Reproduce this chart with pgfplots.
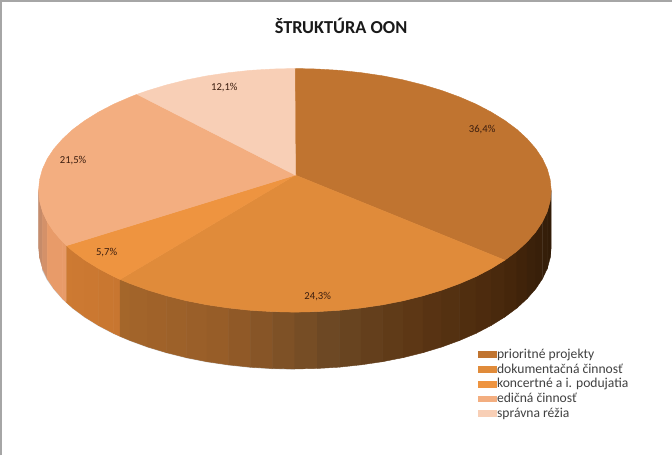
\documentclass[border=0pt]{standalone}
\usepackage{fontspec}
\setmainfont{Carlito}
\usepackage{pgfplots}
\pgfplotsset{compat=1.18}
\definecolor{wA}{RGB}{192,116,48}
\definecolor{wB}{RGB}{224,139,58}
\definecolor{wC}{RGB}{238,148,64}
\definecolor{wD}{RGB}{243,174,128}
\definecolor{wE}{RGB}{248,207,182}
\definecolor{lA}{RGB}{169,104,58}
\definecolor{lB}{RGB}{224,123,40}
\definecolor{lC}{RGB}{242,140,40}
\definecolor{lD}{RGB}{245,168,115}
\definecolor{lE}{RGB}{250,208,192}
\definecolor{lbl}{RGB}{60,30,15}
\begin{document}
\begin{tikzpicture}
\begin{axis}[
  width=672pt,height=460pt,scale only axis,
  xmin=0,xmax=672,ymin=0,ymax=460,y dir=reverse,
  hide axis,clip=true,
  point meta min=48,point meta max=553,
  colormap={wall}{rgb255(48pt)=(190,135,105);rgb255(60pt)=(232,155,105);rgb255(75pt)=(232,155,105);rgb255(76pt)=(205,122,50);rgb255(127pt)=(200,118,48);rgb255(129pt)=(165,102,42);rgb255(230pt)=(150,92,40);rgb255(336pt)=(108,72,36);rgb255(420pt)=(92,54,20);rgb255(507pt)=(72,40,12);rgb255(553pt)=(50,28,8)},
  legend style={at={(axis cs:481,354)},anchor=north west,draw=none,fill=none,
    font=\fontsize{13.4}{15}\selectfont,text=black!75,row sep=1.75pt,inner sep=0pt,
    nodes={inner sep=1pt,anchor=west}},
  legend cell align=left,
  legend image code/.code={\fill[#1] (0pt,-4pt) rectangle (8pt,4pt);},
]
% frame
\addplot[forget plot,draw=black!35,line width=2pt] coordinates {(11,460)(11,12.5)(672,12.5)};
% shadow
\addplot[forget plot,draw=black!45,line width=1.2pt,opacity=0.5] coordinates {(51.8,276.8)(56.6,286.6)(63.2,296)(71.7,305.7)(81.8,315)(93.7,323.8)(107.1,332.1)(122,339.9)(138.2,346.9)(155.7,353.3)(174.2,358.9)(193.8,363.8)(214.1,367.8)(235.2,370.9)(256.7,373.2)(278.5,374.5)(300.5,375)};
% wall
\addplot[forget plot,surf,shader=flat mean,mesh/rows=2,point meta=x] table[row sep=\\]{
x y\\
48.0 199.0\\ 49.0 209.5\\ 51.8 219.8\\ 56.6 230.1\\ 63.2 240.0\\ 71.7 249.7\\ 75.5 253.5\\ 81.8 259.0\\ 93.7 267.8\\ 107.1 276.1\\ 122.0 283.9\\ 128.3 286.8\\ 138.2 290.9\\ 155.7 297.3\\ 174.2 302.9\\ 193.8 307.8\\ 214.1 311.8\\ 235.2 314.9\\ 256.7 317.2\\ 278.5 318.5\\ 300.5 319.0\\ 322.5 318.5\\ 344.3 317.2\\ 365.8 314.9\\ 386.9 311.8\\ 407.2 307.8\\ 426.8 302.9\\ 445.3 297.3\\ 462.8 290.9\\ 479.0 283.9\\ 493.9 276.1\\ 507.3 267.8\\ 519.2 259.0\\ 529.3 249.7\\ 537.8 240.0\\ 544.4 230.1\\ 549.2 219.8\\ 552.0 209.5\\ 553.0 199.0\\
48.0 255.0\\ 49.0 265.5\\ 51.8 275.8\\ 56.6 286.1\\ 63.2 296.0\\ 71.7 305.7\\ 75.5 309.5\\ 81.8 315.0\\ 93.7 323.8\\ 107.1 332.1\\ 122.0 339.9\\ 128.3 342.8\\ 138.2 346.9\\ 155.7 353.3\\ 174.2 358.9\\ 193.8 363.8\\ 214.1 367.8\\ 235.2 370.9\\ 256.7 373.2\\ 278.5 374.5\\ 300.5 375.0\\ 322.5 374.5\\ 344.3 373.2\\ 365.8 370.9\\ 386.9 367.8\\ 407.2 363.8\\ 426.8 358.9\\ 445.3 353.3\\ 462.8 346.9\\ 479.0 339.9\\ 493.9 332.1\\ 507.3 323.8\\ 519.2 315.0\\ 529.3 305.7\\ 537.8 296.0\\ 544.4 286.1\\ 549.2 275.8\\ 552.0 265.5\\ 553.0 255.0\\
};
% top faces
\addplot[fill=wA,draw=wA,area legend] coordinates {(301,184)(300.5,79)(322.5,79.5)(344.3,80.8)(365.8,83.1)(386.9,86.2)(407.2,90.2)(426.8,95.1)(445.3,100.7)(462.8,107.1)(479,114.1)(493.9,121.9)(507.3,130.2)(519.2,139)(529.3,148.3)(537.8,158)(544.4,167.9)(549.2,178.2)(552,188.5)(553,199)(552,209.5)(549.2,219.8)(544.4,230.1)(537.8,240)(529.3,249.7)(519.2,259)(507.3,267.8)} --cycle;
\addlegendentry{prioritné projekty}
\addplot[fill=wB,draw=wB,area legend] coordinates {(301,184)(507.3,267.8)(493.9,276.1)(479,283.9)(462.8,290.9)(445.3,297.3)(426.8,302.9)(407.2,307.8)(386.9,311.8)(365.8,314.9)(344.3,317.2)(322.5,318.5)(300.5,319)(278.5,318.5)(256.7,317.2)(235.2,314.9)(214.1,311.8)(193.8,307.8)(174.2,302.9)(155.7,297.3)(138.2,290.9)(128.3,286.8)} --cycle;
\addlegendentry{dokumentačná činnosť}
\addplot[fill=wC,draw=wC,area legend] coordinates {(301,184)(128.3,286.8)(122,283.9)(107.1,276.1)(93.7,267.8)(81.8,259)(75.5,253.5)} --cycle;
\addlegendentry{koncertné a i. podujatia}
\addplot[fill=wD,draw=wD,area legend] coordinates {(301,184)(75.5,253.5)(71.7,249.7)(63.2,240)(56.6,230.1)(51.8,219.8)(49,209.5)(48,199)(49,188.5)(51.8,178.2)(56.6,167.9)(63.2,158)(71.7,148.3)(81.8,139)(93.7,130.2)(107.1,121.9)(122,114.1)(138.2,107.1)(145,104.4)} --cycle;
\addlegendentry{edičná činnosť}
\addplot[fill=wE,draw=wE,area legend] coordinates {(301,184)(145,104.4)(155.7,100.7)(174.2,95.1)(193.8,90.2)(214.1,86.2)(235.2,83.1)(256.7,80.8)(278.5,79.5)(300.5,79)} --cycle;
\addlegendentry{správna réžia}
% labels
\node[font=\fontsize{18}{20}\selectfont\bfseries,text=black!90] at (axis cs:346,37) {ŠTRUKTÚRA OON};
\node[font=\fontsize{10.5}{12}\selectfont,text=lbl] at (axis cs:485,139) {36,4\%};
\node[font=\fontsize{10.5}{12}\selectfont,text=lbl] at (axis cs:323,304) {24,3\%};
\node[font=\fontsize{10.5}{12}\selectfont,text=lbl] at (axis cs:115,260) {5,7\%};
\node[font=\fontsize{10.5}{12}\selectfont,text=lbl] at (axis cs:82,170) {21,5\%};
\node[font=\fontsize{10.5}{12}\selectfont,text=lbl] at (axis cs:231,98) {12,1\%};
\end{axis}
\end{tikzpicture}
\end{document}
